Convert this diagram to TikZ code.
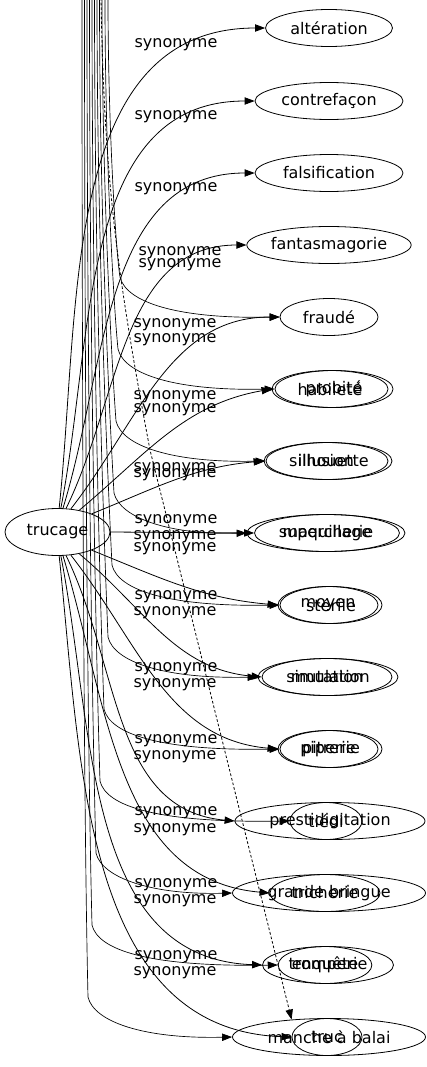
\documentclass[tikz,border=0pt]{standalone}
\usepackage{fontspec}
\setmainfont{DejaVu Sans}
\usetikzlibrary{arrows.meta,shapes.geometric}
\begin{document}
\begin{tikzpicture}[x=0.75pt,y=-0.75pt,
  nd/.style={draw, ellipse, inner sep=0pt, minimum height=27.75pt, line width=0.6pt, font=\fontsize{12}{14}\selectfont},
  lbl/.style={inner sep=0pt, font=\fontsize{12}{14}\selectfont},
  edge/.style={-{Triangle[length=7.5pt,width=5.5pt]}, line width=0.6pt},
  dedge/.style={edge, dash pattern=on 2pt off 1.5pt}]
\useasboundingbox (0,0) rectangle (426,1067);
\clip (0,0) rectangle (426,1067);
% hub
\node[nd, minimum width=78.75pt, minimum height=35.25pt] (tr) at (57.5,532) {trucage};
% first set
\node[nd, minimum width=95.25pt] (alt) at (329,28) {altération};
\node[nd, minimum width=111pt] (contre) at (329,101) {contrefaçon};
\node[nd, minimum width=111pt] (falsi) at (329,173) {falsification};
\node[nd, minimum width=121.5pt] (fanta) at (329,245) {fantasmagorie};
\node[nd, minimum width=73.5pt] (fraude) at (329,317) {fraudé};
\node[nd, minimum width=87pt] (habile) at (330,389) {habileté};
\node[nd, minimum width=93pt] (illus) at (326,461) {illusion};
\node[nd, minimum width=108.75pt] (maq) at (327,533) {maquillage};
\node[nd, minimum width=75pt] (moyen) at (328,605) {moyen};
\node[nd, minimum width=97.5pt] (mutat) at (327,677) {mutation};
\node[nd, minimum width=75pt] (piper) at (328,749) {piperie};
\node[nd, minimum width=142.5pt] (presti) at (330,821) {prestidigitation};
\node[nd, minimum width=82.5pt] (trich) at (325,893) {tricherie};
\node[nd, minimum width=98.25pt] (tromp) at (328,965) {tromperie};
\node[nd, minimum width=52.5pt] (truc) at (327,1037) {truc};
% second set
\node[nd, minimum width=88.5pt] (probite) at (334,389) {probité};
\node[nd, minimum width=94.5pt] (silh) at (329,461) {silhouette};
\node[nd, minimum width=118.5pt] (superch) at (326,533) {supercherie};
\node[nd, minimum width=76.5pt] (sterile) at (331,605) {stérile};
\node[nd, minimum width=105pt] (simul) at (328,677) {simulation};
\node[nd, minimum width=76.5pt] (pitre) at (331,749) {pitrerie};
\node[nd, minimum width=54pt] (tiede) at (326,821) {tiédi};
\node[nd, minimum width=144.75pt] (bringue) at (329,893) {grande bringue};
\node[nd, minimum width=63.75pt] (enq) at (325,965) {enquête};
\node[nd, minimum width=144.75pt] (manche) at (329,1037) {manche à balai};
% labels
\foreach \yy/\xx in {45/176,117/176,189/176,253/180,265/180,325/175,340/175,397/175,410/175,469/175,475/175,521/176,537/175,549/175,597/176,613/175,669/176,685/175,741/176,757/175,813/176,830/175,885/176,901/175,957/176,973/175}
  \node[lbl] at (\xx,\yy) {synonyme};
% first-set edges
\draw[edge] (tr.86) to[out=84,in=180] (alt.west);
\draw[edge] (tr.82) to[out=79,in=180] (contre.west);
\draw[edge] (tr.77) to[out=73,in=180] (falsi.west);
\draw[edge] (tr.70) to[out=64,in=180] (fanta.west);
\draw[edge] (tr.60) to[out=52,in=180] (fraude.west);
\draw[edge] (tr.45) to[out=40,in=190] (habile.west);
\draw[edge] (tr.28) to[out=22,in=185] (illus.west);
\draw[edge] (tr.east) -- (maq.west);
\draw[edge] (tr.-28) to[out=-22,in=175] (moyen.west);
\draw[edge] (tr.-45) to[out=-40,in=175] (mutat.west);
\draw[edge] (tr.-60) to[out=-52,in=175] (piper.west);
\draw[edge] (tr.-70) to[out=-64,in=175] (presti.west);
\draw[edge] (tr.-77) to[out=-73,in=175] (trich.west);
\draw[edge] (tr.-82) to[out=-79,in=178] (tromp.west);
\draw[edge] (tr.-86) to[out=-84,in=178] (truc.west);
% second-set edges from above
\foreach \xa/\xb/\r/\t in {108/116/317/fraude, 105/114/389/probite, 102/112/461/silh, 99.5/110/533/superch, 97/108/605/sterile, 94.5/104/677/simul, 92/100/749/pitre, 89.5/96/821/tiede, 87/92/893/bringue, 84.5/88/965/enq, 82/84/1037/manche}
  \draw[edge, line width=0.5pt] (\xa,-2) .. controls (\xa,0.4*\r) and (\xb,0.8*\r) .. (\xb+4,\r-40) .. controls (\xb+10,\r-15) and (\xb+60,\r+2) .. (\t.west);
\coordinate (dtop) at (101,-2);
\draw[dedge] (dtop) .. controls (104,180) and (118,280) .. (150,450) -- (manche.155);
\end{tikzpicture}
\end{document}
